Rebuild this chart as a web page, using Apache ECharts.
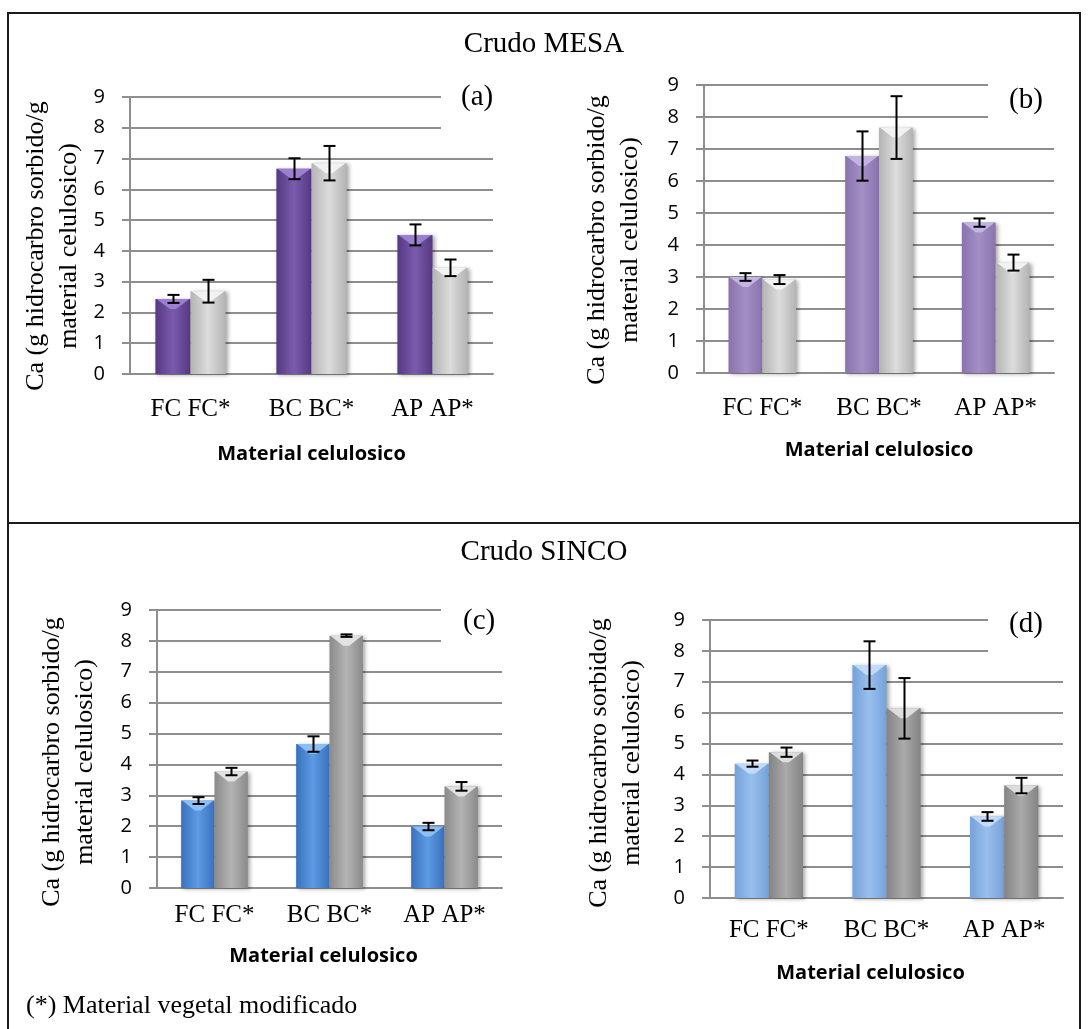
<!DOCTYPE html>
<html><head><meta charset="utf-8">
<script src="https://cdn.jsdelivr.net/npm/echarts@6/dist/echarts.min.js"></script>
<style>html,body{margin:0;padding:0;background:#fff}#c{width:1088px;height:1029px}</style>
</head><body><div id="c"></div>
<script>
// ---------- data ----------
const categories = ['FC FC*', 'BC BC*', 'AP AP*'];
const yMin = 0, yMax = 9, yStep = 1;
const titleTop = 'Crudo MESA';
const titleBottom = 'Crudo SINCO';
const panelLabels = ['(a)', '(b)', '(c)', '(d)'];
const yName = 'Ca (g hidrocarbro sorbido/g\nmaterial celulosico)';
const xName = 'Material celulosico';
const footnote = '(*) Material vegetal modificado';

const aNative = [2.44, 6.67, 4.52];
const aNativeErr = [0.13, 0.34, 0.34];
const aMod = [2.69, 6.85, 3.45];
const aModErr = [0.37, 0.56, 0.27];

const bNative = [3.00, 6.78, 4.70];
const bNativeErr = [0.12, 0.77, 0.13];
const bMod = [2.92, 7.67, 3.45];
const bModErr = [0.14, 0.98, 0.25];

const cNative = [2.83, 4.66, 1.99];
const cNativeErr = [0.11, 0.25, 0.12];
const cMod = [3.77, 8.17, 3.29];
const cModErr = [0.12, 0.04, 0.14];

const dNative = [4.35, 7.54, 2.64];
const dNativeErr = [0.10, 0.77, 0.14];
const dMod = [4.72, 6.14, 3.64];
const dModErr = [0.15, 0.98, 0.25];

// ---------- layout / style ----------
const SERIF = 'Liberation Serif, Times New Roman, serif';
const SANS = 'Open Sans, Lato, sans-serif';
const GAP = 0.42;
const panels = [
  {grid:{left:130,top:97,width:363,height:277}, nat:aNative, natErr:aNativeErr, mod:aMod, modErr:aModErr,
   natC:['#553882','#7c5bae','#553882'], natTop:'#a084d6', modC:['#b4b4b4','#dcdcdc','#b4b4b4'], modTop:'#f6f6f6',
   yGap:44, yPad:[0,21,0,0], lblMargin:23, xGap:70, xPad:0,
   box:{x:441,y:84,w:56,h:54}, lbl:{x:461,y:97}},
  {grid:{left:704,top:85,width:350,height:288}, nat:bNative, natErr:bNativeErr, mod:bMod, modErr:bModErr,
   natC:['#8a73ad','#a48fc6','#8a73ad'], natTop:'#c8b8e6', modC:['#b4b4b4','#dcdcdc','#b4b4b4'], modTop:'#f6f6f6',
   yGap:57, yPad:[0,22,0,0], lblMargin:23, xGap:67, xPad:0,
   box:{x:988,y:74,w:70,h:56}, lbl:{x:1009,y:100}},
  {grid:{left:157,top:610,width:345,height:278}, nat:cNative, natErr:cNativeErr, mod:cMod, modErr:cModErr,
   natC:['#3a70bd','#5d9be4','#3a70bd'], natTop:'#92c4f6', modC:['#8a8a8a','#b4b4b4','#8a8a8a'], modTop:'#e8e8e8',
   yGap:55, yPad:[0,26,0,0], lblMargin:15, xGap:58, xPad:[0,12,0,0],
   box:{x:441,y:598,w:65,h:54}, lbl:{x:463,y:621}},
  {grid:{left:710,top:620,width:353,height:278}, nat:dNative, natErr:dNativeErr, mod:dMod, modErr:dModErr,
   natC:['#76a2da','#98bfee','#76a2da'], natTop:'#c6dffa', modC:['#848484','#aaaaaa','#848484'], modTop:'#e4e4e4',
   yGap:61, yPad:[0,8,0,0], lblMargin:20, xGap:65, xPad:[0,32,0,0],
   box:{x:988,y:606,w:79,h:56}, lbl:{x:1009,y:624}}
];

function grad(c){
  return new echarts.graphic.LinearGradient(0,0,1,0,[
    {offset:0,color:c[0]},{offset:0.5,color:c[1]},{offset:1,color:c[2]}]);
}
function barOffset(api, pos){
  const band = api.size([1,0])[0];
  const bw = band*(1-GAP)/2;
  return {bw:bw, dx:(pos===0 ? -bw/2 : bw/2)};
}
function errRender(params, api){
  const cat = api.value(0), lo = api.value(1), hi = api.value(2), pos = api.value(3);
  const o = barOffset(api, pos);
  const pLo = api.coord([cat, lo]), pHi = api.coord([cat, hi]);
  const x = Math.round(pLo[0] + o.dx) + 0.5;
  const st = {stroke:'#000', lineWidth:2};
  return {type:'group', children:[
    {type:'line', shape:{x1:x,y1:pLo[1],x2:x,y2:pHi[1]}, style:st},
    {type:'line', shape:{x1:x-6,y1:pHi[1],x2:x+6,y2:pHi[1]}, style:st},
    {type:'line', shape:{x1:x-6,y1:pLo[1],x2:x+6,y2:pLo[1]}, style:st}
  ]};
}
function bevelRender(color){
  return function(params, api){
    const cat = api.value(0), v = api.value(1), pos = api.value(2);
    const o = barOffset(api, pos);
    const p = api.coord([cat, v]);
    const cx = p[0] + o.dx, h = Math.min(10, o.bw*0.3), w = o.bw/2 - 1;
    return {type:'polygon', shape:{points:[[cx-w,p[1]],[cx+w,p[1]],[cx+3,p[1]+h],[cx-3,p[1]+h]]},
      style:{fill:color, opacity:0.9}};
  };
}

const option = {
  animation:false,
  backgroundColor:'#fff',
  grid:[], xAxis:[], yAxis:[], series:[],
  title:[
    {text:titleTop, left:'center', top:30, padding:0, textStyle:{fontFamily:SERIF, fontSize:29, fontWeight:'normal', color:'#000'}},
    {text:titleBottom, left:'center', top:538, padding:0, textStyle:{fontFamily:SERIF, fontSize:29, fontWeight:'normal', color:'#000'}},
    {text:footnote, left:26, top:993, padding:0, textStyle:{fontFamily:SERIF, fontSize:26, fontWeight:'normal', color:'#000'}}
  ],
  graphic:[
    {type:'line', shape:{x1:8,y1:13,x2:1080,y2:13}, style:{stroke:'#1a1a1a',lineWidth:2}, z:100},
    {type:'line', shape:{x1:8,y1:12,x2:8,y2:1040}, style:{stroke:'#1a1a1a',lineWidth:2}, z:100},
    {type:'line', shape:{x1:1080,y1:12,x2:1080,y2:1040}, style:{stroke:'#1a1a1a',lineWidth:2}, z:100},
    {type:'line', shape:{x1:8,y1:523,x2:1080,y2:523}, style:{stroke:'#1a1a1a',lineWidth:2}, z:100}
  ]
};

panels.forEach((p, i) => {
  option.grid.push(Object.assign({containLabel:false}, p.grid));
  option.xAxis.push({
    type:'category', gridIndex:i, data:categories,
    axisLine:{show:true, lineStyle:{color:'#8e8e8e', width:2}},
    axisTick:{show:false},
    axisLabel:{interval:0, margin:p.lblMargin, fontFamily:SERIF, fontSize:25, color:'#000'},
    name:xName, nameLocation:'middle', nameGap:p.xGap,
    nameTextStyle:{fontFamily:SANS, fontSize:20, fontWeight:'bold', color:'#000', padding:p.xPad}
  });
  option.yAxis.push({
    type:'value', gridIndex:i, min:yMin, max:yMax, interval:yStep,
    axisLine:{show:true, lineStyle:{color:'#8e8e8e', width:2}},
    axisTick:{show:true, inside:false, length:8, lineStyle:{color:'#8e8e8e', width:2}},
    splitLine:{show:true, lineStyle:{color:'#8e8e8e', width:2}},
    axisLabel:{margin:25, fontFamily:SANS, fontSize:20, color:'#000'},
    name:yName, nameLocation:'middle', nameRotate:90, nameGap:p.yGap,
    nameTextStyle:{fontFamily:SERIF, fontSize:26, lineHeight:33, color:'#000', align:'center', padding:p.yPad}
  });
  const shadow = {shadowColor:'rgba(0,0,0,0.35)', shadowBlur:4, shadowOffsetX:2, shadowOffsetY:1};
  option.series.push({
    type:'bar', name:'nativo', xAxisIndex:i, yAxisIndex:i, data:p.nat,
    barGap:'0%', barCategoryGap:(GAP*100)+'%',
    itemStyle:Object.assign({color:grad(p.natC)}, shadow), z:2
  });
  option.series.push({
    type:'bar', name:'modificado', xAxisIndex:i, yAxisIndex:i, data:p.mod,
    barGap:'0%', barCategoryGap:(GAP*100)+'%',
    itemStyle:Object.assign({color:grad(p.modC)}, shadow), z:2
  });
  option.series.push({
    type:'custom', xAxisIndex:i, yAxisIndex:i, z:3, silent:true,
    renderItem:bevelRender(p.natTop),
    data:p.nat.map((v,k)=>[k,v,0])
  });
  option.series.push({
    type:'custom', xAxisIndex:i, yAxisIndex:i, z:3, silent:true,
    renderItem:bevelRender(p.modTop),
    data:p.mod.map((v,k)=>[k,v,1])
  });
  const err = [];
  p.nat.forEach((v,k)=>err.push([k, v-p.natErr[k], v+p.natErr[k], 0]));
  p.mod.forEach((v,k)=>err.push([k, v-p.modErr[k], v+p.modErr[k], 1]));
  option.series.push({
    type:'custom', xAxisIndex:i, yAxisIndex:i, z:5, silent:true,
    renderItem:errRender, encode:{x:0, y:[1,2]}, data:err
  });
  option.graphic.push({type:'rect', shape:{x:p.box.x, y:p.box.y, width:p.box.w, height:p.box.h}, style:{fill:'#fff'}, z:50});
  option.graphic.push({type:'text', x:p.lbl.x, y:p.lbl.y, z:51,
    style:{text:panelLabels[i], fontFamily:SERIF, fontSize:29, fill:'#000', textAlign:'left', textVerticalAlign:'middle'}});
});

const chart = echarts.init(document.getElementById('c'), null, {renderer:'canvas'});
chart.setOption(option);
</script>
</body></html>
